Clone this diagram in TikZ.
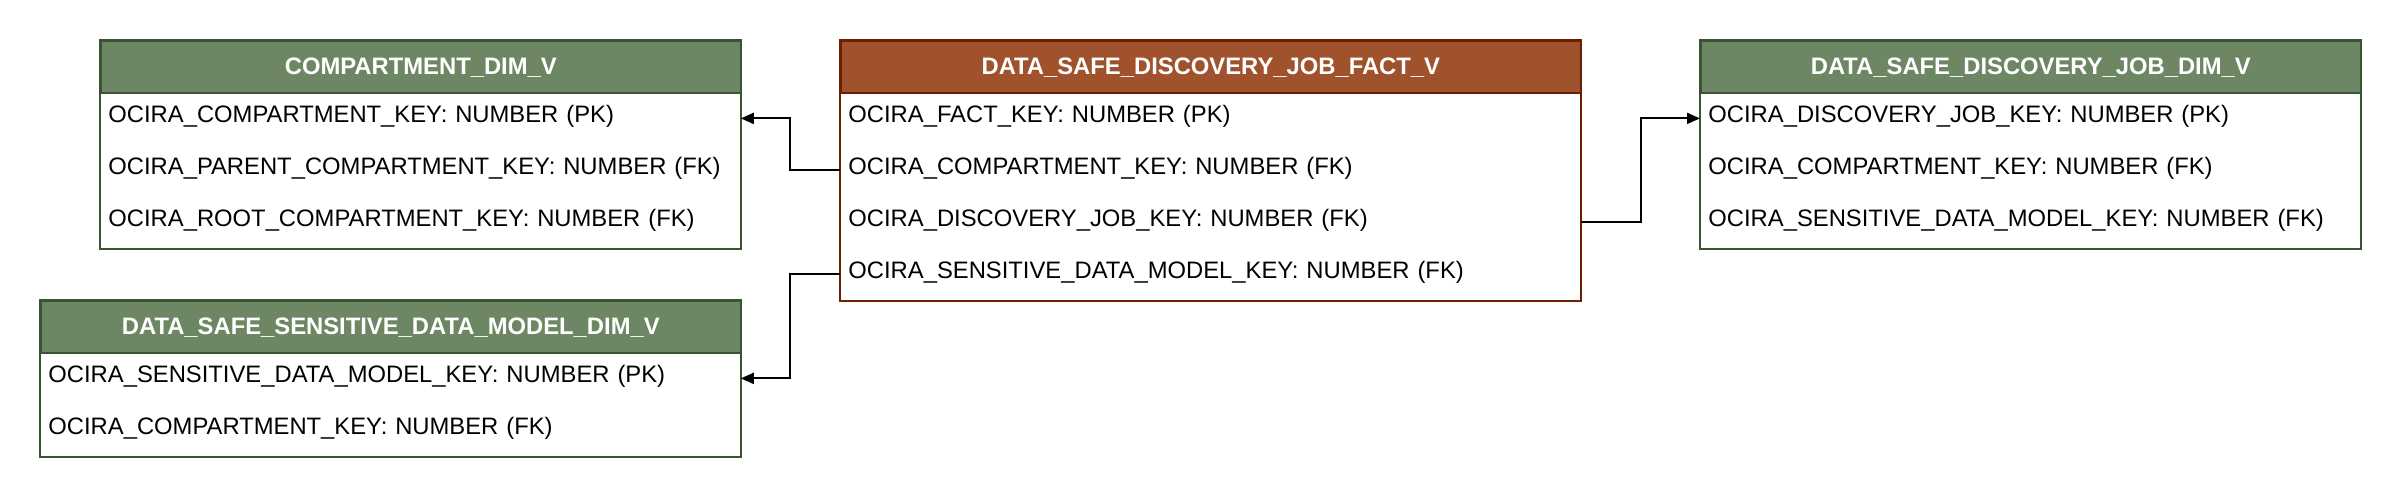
\documentclass[tikz,border=0pt]{standalone}
\usepackage{fontspec}
\setmainfont{Liberation Sans}
\usetikzlibrary{arrows.meta}
\definecolor{gfill}{HTML}{6D8764}
\definecolor{gline}{HTML}{3A5431}
\definecolor{bfill}{HTML}{A0522D}
\definecolor{bline}{HTML}{6D1F00}
\tikzset{
  cellfont/.style={font=\fontsize{11.9}{14}\selectfont},
  row/.style={cellfont, anchor=north west, inner xsep=4pt, inner ysep=0pt,
    minimum height=26pt, text height=8pt, text depth=4pt, align=left},
  head/.style={cellfont, anchor=north west, inner xsep=4pt, inner ysep=0pt,
    minimum height=26pt, text height=10pt, text depth=2pt, align=center,
    text=white, font=\fontsize{11.9}{14}\selectfont\bfseries, line width=0.8pt},
  greenhead/.style={head, fill=gfill, draw=gline},
  brownhead/.style={head, fill=bfill, draw=bline},
  frame/.style={line width=0.8pt},
  conn/.style={line width=1pt, -{Triangle[length=6.5pt,width=5.5pt]}}
}
\begin{document}
\begin{tikzpicture}[x=0.5pt,y=-0.5pt]
\useasboundingbox[fill=white] (0,0) rectangle (2400,496);

% COMPARTMENT_DIM_V
\node[greenhead, text width=312pt] (cH) at (100,40) {COMPARTMENT\_DIM\_V};
\node[row, text width=312pt] (c1) at (100,92) {OCIRA\_COMPARTMENT\_KEY: NUMBER (PK)};
\node[row, text width=312pt] (c2) at (100,144) {OCIRA\_PARENT\_COMPARTMENT\_KEY: NUMBER (FK)};
\node[row, text width=312pt] (c3) at (100,196) {OCIRA\_ROOT\_COMPARTMENT\_KEY: NUMBER (FK)};
\draw[frame, draw=gline] (cH.north west) rectangle (c3.south east);

% DATA_SAFE_SENSITIVE_DATA_MODEL_DIM_V
\node[greenhead, text width=342pt] (sH) at (40,300) {DATA\_SAFE\_SENSITIVE\_DATA\_MODEL\_DIM\_V};
\node[row, text width=342pt] (s1) at (40,352) {OCIRA\_SENSITIVE\_DATA\_MODEL\_KEY: NUMBER (PK)};
\node[row, text width=342pt] (s2) at (40,404) {OCIRA\_COMPARTMENT\_KEY: NUMBER (FK)};
\draw[frame, draw=gline] (sH.north west) rectangle (s2.south east);

% DATA_SAFE_DISCOVERY_JOB_FACT_V
\node[brownhead, text width=362pt] (fH) at (840,40) {DATA\_SAFE\_DISCOVERY\_JOB\_FACT\_V};
\node[row, text width=362pt] (f1) at (840,92) {OCIRA\_FACT\_KEY: NUMBER (PK)};
\node[row, text width=362pt] (f2) at (840,144) {OCIRA\_COMPARTMENT\_KEY: NUMBER (FK)};
\node[row, text width=362pt] (f3) at (840,196) {OCIRA\_DISCOVERY\_JOB\_KEY: NUMBER (FK)};
\node[row, text width=362pt] (f4) at (840,248) {OCIRA\_SENSITIVE\_DATA\_MODEL\_KEY: NUMBER (FK)};
\draw[frame, draw=bline] (fH.north west) rectangle (f4.south east);

% DATA_SAFE_DISCOVERY_JOB_DIM_V
\node[greenhead, text width=322pt] (rH) at (1700,40) {DATA\_SAFE\_DISCOVERY\_JOB\_DIM\_V};
\node[row, text width=322pt] (r1) at (1700,92) {OCIRA\_DISCOVERY\_JOB\_KEY: NUMBER (PK)};
\node[row, text width=322pt] (r2) at (1700,144) {OCIRA\_COMPARTMENT\_KEY: NUMBER (FK)};
\node[row, text width=322pt] (r3) at (1700,196) {OCIRA\_SENSITIVE\_DATA\_MODEL\_KEY: NUMBER (FK)};
\draw[frame, draw=gline] (rH.north west) rectangle (r3.south east);

% connectors
\draw[conn] (f2.west) -- ++(-50,0) |- (c1.east);
\draw[conn] (f4.west) -- ++(-50,0) |- (s1.east);
\draw[conn] (f3.east) -- ++(60,0) |- (r1.west);
\end{tikzpicture}
\end{document}
